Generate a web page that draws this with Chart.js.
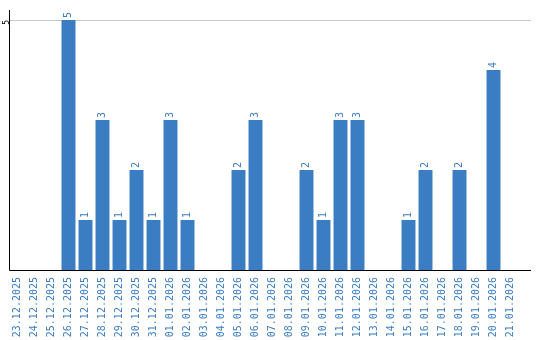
<!DOCTYPE html>
<html>
<head>
<meta charset="utf-8">
<script src="https://cdn.jsdelivr.net/npm/chart.js@4/dist/chart.umd.min.js"></script>
<style>
  html, body { margin: 0; padding: 0; background: #fff; overflow: hidden; }
  #wrap { position: relative; width: 540px; height: 340px; }
</style>
</head>
<body>
<div id="wrap"><canvas id="dayChart"></canvas></div>
<script>
// Data
const days = [
  '23.12.2025', '24.12.2025', '25.12.2025', '26.12.2025', '27.12.2025',
  '28.12.2025', '29.12.2025', '30.12.2025', '31.12.2025', '01.01.2026',
  '02.01.2026', '03.01.2026', '04.01.2026', '05.01.2026', '06.01.2026',
  '07.01.2026', '08.01.2026', '09.01.2026', '10.01.2026', '11.01.2026',
  '12.01.2026', '13.01.2026', '14.01.2026', '15.01.2026', '16.01.2026',
  '17.01.2026', '18.01.2026', '19.01.2026', '20.01.2026', '21.01.2026'
];
const counts = [
  0, 0, 0, 5, 1,
  3, 1, 2, 1, 3,
  1, 0, 0, 2, 3,
  0, 0, 2, 1, 3,
  3, 0, 0, 1, 2,
  0, 2, 0, 4, 0
];
const yTicks = [5];

const blue = '#3b7dc2';
const mono = '"DejaVu Sans Mono", "Liberation Mono", monospace';

// axis lines + gridline, axis runs a bit past the last category
const axisLines = {
  id: 'axisLines',
  beforeDatasetsDraw(chart) {
    const { ctx, chartArea, scales } = chart;
    const right = chartArea.right + 12;
    ctx.save();
    ctx.lineWidth = 1;
    ctx.strokeStyle = '#c8c8c8';
    yTicks.forEach(v => {
      const y = Math.round(scales.y.getPixelForValue(v)) + 0.5;
      ctx.beginPath();
      ctx.moveTo(chartArea.left, y);
      ctx.lineTo(right, y);
      ctx.stroke();
    });
    ctx.strokeStyle = '#000';
    const x0 = Math.round(chartArea.left) + 0.5;
    const y0 = Math.round(chartArea.bottom) + 0.5;
    ctx.beginPath();
    ctx.moveTo(x0, chartArea.top);
    ctx.lineTo(x0, y0);
    ctx.lineTo(right, y0);
    ctx.stroke();
    ctx.restore();
  }
};

// rotated value labels above the bars
const valueLabels = {
  id: 'valueLabels',
  afterDatasetsDraw(chart) {
    const { ctx } = chart;
    const meta = chart.getDatasetMeta(0);
    ctx.save();
    ctx.fillStyle = blue;
    ctx.font = '10px ' + mono;
    ctx.textAlign = 'left';
    ctx.textBaseline = 'middle';
    meta.data.forEach((bar, i) => {
      if (!counts[i]) return;
      ctx.save();
      ctx.translate(bar.x, bar.y - 2);
      ctx.rotate(-Math.PI / 2);
      ctx.fillText(String(counts[i]), 0, 0);
      ctx.restore();
    });
    ctx.restore();
  }
};

new Chart(document.getElementById('dayChart'), {
  type: 'bar',
  data: {
    labels: days,
    datasets: [{
      data: counts,
      backgroundColor: blue,
      borderWidth: 0,
      barPercentage: 0.82,
      categoryPercentage: 1
    }]
  },
  options: {
    responsive: true,
    maintainAspectRatio: false,
    animation: false,
    layout: { padding: { top: 10, right: 21, left: 0, bottom: 0 } },
    plugins: {
      legend: { display: false },
      tooltip: { enabled: false }
    },
    scales: {
      x: {
        grid: { display: false, drawTicks: false },
        border: { display: false },
        ticks: {
          autoSkip: false,
          minRotation: 90,
          maxRotation: 90,
          padding: 7,
          color: blue,
          font: { family: mono, size: 10 }
        },
        afterFit(scale) { scale.height = 70; }
      },
      y: {
        min: 0,
        max: 5.2,
        grid: { display: false, drawTicks: false },
        border: { display: false },
        afterBuildTicks(scale) { scale.ticks = yTicks.map(v => ({ value: v })); },
        ticks: {
          minRotation: 90,
          maxRotation: 90,
          padding: 2,
          color: '#000',
          font: { family: mono, size: 8 }
        },
        afterFit(scale) { scale.width = 9; }
      }
    }
  },
  plugins: [axisLines, valueLabels]
});
</script>
</body>
</html>
